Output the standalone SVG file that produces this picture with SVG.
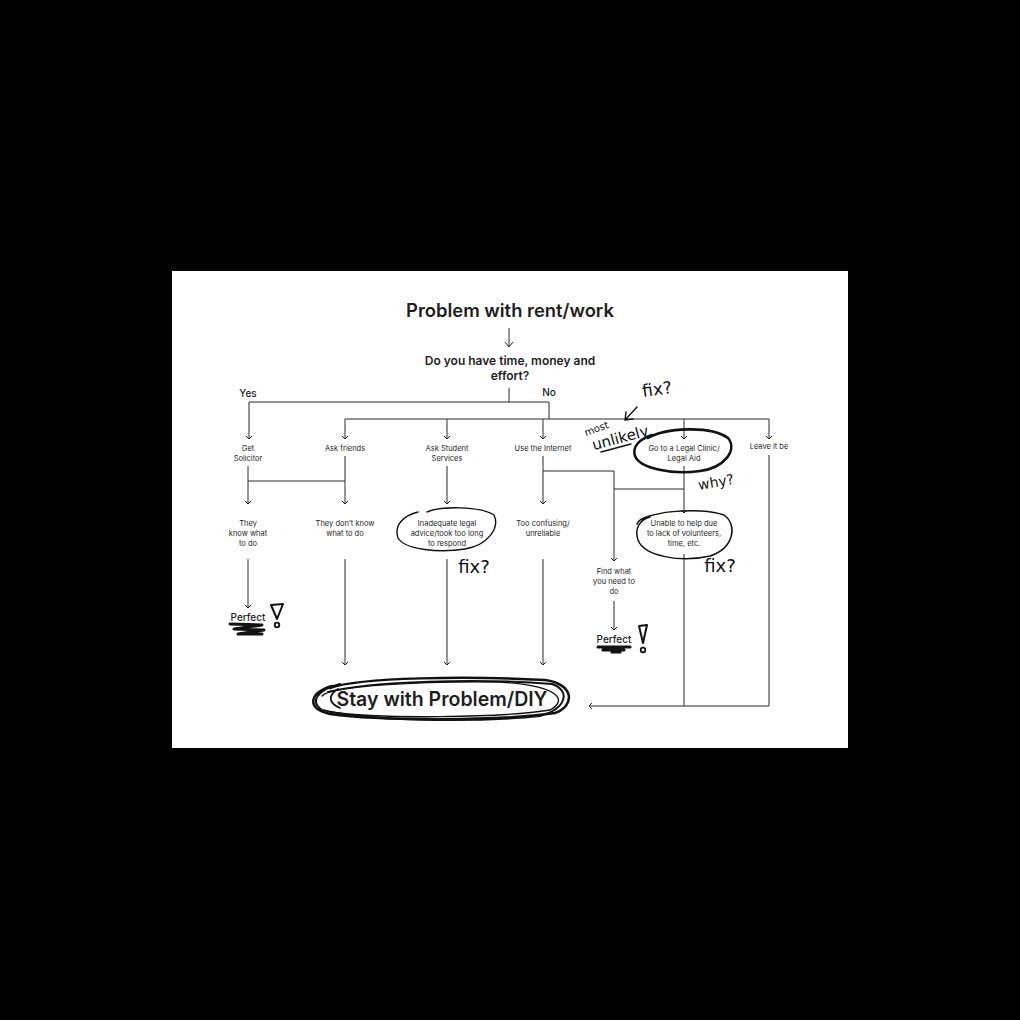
<svg xmlns="http://www.w3.org/2000/svg" width="1020" height="1020" viewBox="0 0 1020 1020">
<defs>
<marker id="ah" markerWidth="8" markerHeight="8" refX="4" refY="4" orient="auto" markerUnits="userSpaceOnUse">
<path d="M1,1 L4,4 L1,7" fill="none" stroke="#222" stroke-width="1"/>
</marker>
<style>
.c{fill:none;stroke:#2a2a2a;stroke-width:1}
.ca{fill:none;stroke:#2a2a2a;stroke-width:1;marker-end:url(#ah)}
.t{font-family:Inter,"Liberation Sans",sans-serif;fill:#1e1e1e;text-anchor:middle}
.s{font-size:7.5px}
.h{font-family:"DejaVu Sans","Liberation Sans",sans-serif;font-weight:400;fill:#111;text-anchor:middle}
.ink{fill:none;stroke:#111;stroke-linecap:round;stroke-linejoin:round}
</style>
</defs>
<rect width="1020" height="1020" fill="#000"/>
<rect x="172" y="271" width="676" height="477" fill="#fff"/>

<g id="connectors">
<path class="c" d="M509,328 V347 M505,342 L509,347 L513,342"/>
<path class="c" d="M509,388 V402 M249,402 H549 M549,402 V419 M345,419 H769"/>
<path class="ca" d="M249,402 V439"/>
<path class="ca" d="M345,419 V439"/>
<path class="ca" d="M447,419 V439"/>
<path class="ca" d="M543,419 V439"/>
<path class="ca" d="M684,419 V439"/>
<path class="ca" d="M769,419 V439"/>
<path class="ca" d="M248,466 V504"/>
<path class="c" d="M248,481 H345"/>
<path class="ca" d="M345,456 V504"/>
<path class="ca" d="M447,466 V504"/>
<path class="ca" d="M543,456 V504"/>
<path class="ca" d="M543,471 H614 V561"/>
<path class="c" d="M614,489 H684"/>
<path class="ca" d="M684,466 V513"/>
<path class="ca" d="M248,559 V608"/>
<path class="ca" d="M345,559 V665"/>
<path class="ca" d="M447,559 V665"/>
<path class="ca" d="M543,559 V665"/>
<path class="ca" d="M614,601 V630"/>
<path class="c" d="M684,554 V706"/>
<path class="ca" d="M769,455 V706 H589"/>
</g>

<g id="title"><text class="t" x="510" y="317" font-size="18.4" font-weight="600">Problem with rent/work</text></g>
<g id="question"><text class="t" x="510" y="365" font-size="12" font-weight="600">Do you have time, money and</text><text class="t" x="510" y="380" font-size="12" font-weight="600">effort?</text></g>
<g id="yes"><text class="t" x="248" y="397" font-size="10" font-weight="500">Yes</text></g>
<g id="no"><text class="t" x="549" y="396" font-size="10" font-weight="500">No</text></g>

<g id="n-solicitor"><text class="t s" x="248" y="451">Get</text><text class="t s" x="248" y="461">Solicitor</text></g>
<g id="n-friends"><text class="t s" x="345" y="451">Ask friends</text></g>
<g id="n-student"><text class="t s" x="447" y="451">Ask Student</text><text class="t s" x="447" y="461">Services</text></g>
<g id="n-internet"><text class="t s" x="543" y="451">Use the Internet</text></g>
<g id="n-clinic"><text class="t s" x="684" y="451">Go to a Legal Clinic/</text><text class="t s" x="684" y="461">Legal Aid</text></g>
<g id="n-leave"><text class="t s" x="769" y="449">Leave it be</text></g>

<g id="n-know"><text class="t s" x="248" y="526">They</text><text class="t s" x="248" y="536">know what</text><text class="t s" x="248" y="546">to do</text></g>
<g id="n-dontknow"><text class="t s" x="345" y="526">They don’t know</text><text class="t s" x="345" y="536">what to do</text></g>
<g id="n-inadequate"><text class="t s" x="447" y="526">Inadequate legal</text><text class="t s" x="447" y="536">advice/took too long</text><text class="t s" x="447" y="546">to respond</text></g>
<g id="n-confusing"><text class="t s" x="543" y="526">Too confusing/</text><text class="t s" x="543" y="536">unreliable</text></g>
<g id="n-unable"><text class="t s" x="684" y="526">Unable to help due</text><text class="t s" x="684" y="536">to lack of volunteers,</text><text class="t s" x="684" y="546">time, etc.</text></g>
<g id="n-find"><text class="t s" x="614" y="574">Find what</text><text class="t s" x="614" y="584">you need to</text><text class="t s" x="614" y="594">do</text></g>

<g id="n-perfect1"><text class="t" x="248" y="621" font-size="10" font-weight="500">Perfect</text>
<path class="ink" stroke-width="3" d="M230,624 L262,625 L234,629 L264,630 L238,634 L262,634"/>
<path class="ink" stroke-width="2" d="M271,605 L283,604 L277,619 Z"/>
<circle cx="277" cy="625" r="2.3" class="ink" stroke-width="1.8"/>
</g>
<g id="n-perfect2"><text class="t" x="614" y="643" font-size="10" font-weight="500">Perfect</text>
<path class="ink" stroke-width="3.2" d="M598,647 L630,647 M603,650 L624,650 M612,652 L620,652"/>
<path class="ink" stroke-width="2" d="M639,626 L647,625 L643,643 Z"/>
<circle cx="643" cy="650" r="2.3" class="ink" stroke-width="1.8"/>
</g>

<g id="n-stay"><text class="t" x="442" y="706" font-size="19.5" font-weight="600">Stay with Problem/DIY</text>
<path class="ink" stroke-width="2.5" d="M330,688 C360,677 470,676 545,680 C575,684 575,706 555,713 C500,721 380,721 330,714 C305,708 310,692 332,686"/>
<path class="ink" stroke-width="2" d="M328,692 C370,681 480,678 552,684 C570,690 568,708 540,716 C470,723 370,721 322,710 C310,702 316,690 340,684"/>
<path class="ink" stroke-width="1.4" d="M322,696 C330,686 420,681 500,682 C560,686 568,700 550,710 C500,718 380,719 330,712"/>
<path class="ink" stroke-width="1.8" d="M338,689 C328,695 328,703 340,708"/>
</g>

<g id="annotations">
<text class="h" x="657" y="395" font-size="17" transform="rotate(-8 657 389)">fix?</text>
<path class="ink" stroke-width="1.4" d="M637,407 L625,420 M625,420 L626,412 M625,420 L633,419"/>
<text class="h" x="597" y="432" font-size="10" transform="rotate(-20 597 430)">most</text>
<text class="h" x="620" y="443" font-size="15" transform="rotate(-15 620 437)">unlikely</text>
<path class="ink" stroke-width="1.4" d="M601,452 L631,444"/>
<path class="ink" stroke-width="2.6" d="M648,438 C665,428 710,425 728,438 C738,450 724,468 700,471 C670,475 640,468 635,456 C632,446 640,439 652,435"/>
<text class="h" x="716" y="487" font-size="14" transform="rotate(-10 716 482)">why?</text>
<path class="ink" stroke-width="1.5" d="M637,524 C640,512 700,506 724,515 C738,525 734,548 710,556 C680,563 644,556 638,540 C634,528 640,520 650,517"/>
<text class="h" x="720" y="572" font-size="18">fix?</text>
<path class="ink" stroke-width="1.4" d="M427,512 C440,506 480,506 494,515 C500,528 488,545 465,549 C440,553 405,550 398,538 C394,526 402,516 418,512"/>
<text class="h" x="474" y="573" font-size="18">fix?</text>
</g>
</svg>
